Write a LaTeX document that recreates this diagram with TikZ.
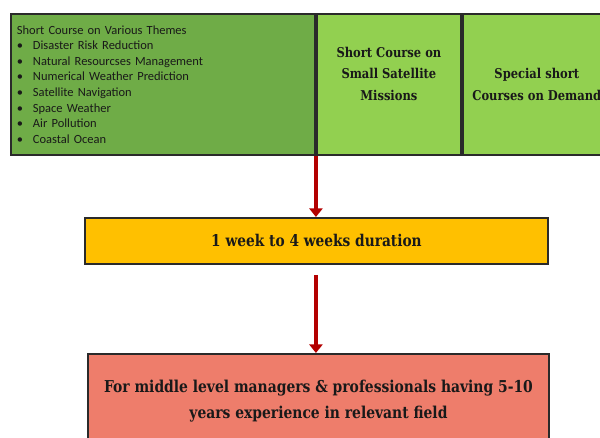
\documentclass[tikz,border=0pt]{standalone}
\usepackage{fontspec}
\usetikzlibrary{arrows.meta}
\newfontfamily\calib{Carlito}
\newfontfamily\slab{DejaVu Serif}[FakeStretch=0.85]
\definecolor{darkgreen}{HTML}{6FAC47}
\definecolor{lightgreen}{HTML}{92D050}
\definecolor{durgold}{HTML}{FFC000}
\definecolor{salmon}{HTML}{EE7D6B}
\definecolor{arrowred}{HTML}{B30000}
\definecolor{edge}{HTML}{2A2A2A}
\newcommand\itm[1]{\makebox[0.32cm][l]{\textbullet}#1}

\begin{document}
\begin{tikzpicture}[
  box/.style={draw=edge, line width=1.1pt, anchor=north west, inner sep=0pt,
              text=black!90, align=center},
  flow/.style={draw=arrowred, line width=2.3pt,
               -{Triangle[width=0.26cm, length=0.17cm]}}]
\clip (0,0) rectangle (12,-8.76);

% top row of course types
\node (themes) [box, fill=darkgreen, minimum width=6.08cm, minimum height=2.82cm,
  text width=5.84cm, inner xsep=0.12cm, align=left,
  font=\calib\fontsize{7.1}{8.9}\selectfont] at (0.2,-0.26)
  {Short Course on Various Themes\\
   \itm{Disaster Risk Reduction}\\
   \itm{Natural Resourcses Management}\\
   \itm{Numerical Weather Prediction}\\
   \itm{Satellite Navigation}\\
   \itm{Space Weather}\\
   \itm{Air Pollution}\\
   \itm{Coastal Ocean}};
\node (sat) [box, fill=lightgreen, minimum width=2.88cm, minimum height=2.82cm,
  font=\slab\bfseries\fontsize{7.7}{12.2}\selectfont] at (themes.north east)
  {Short Course on\\Small Satellite\\Missions\\\mbox{}};
\node (demand) [box, fill=lightgreen, minimum width=2.96cm, minimum height=2.82cm,
  font=\slab\bfseries\fontsize{7.7}{12.2}\selectfont] at (sat.north east)
  {Special short\\Courses on Demand};

% duration and audience
\node (dur) [box, fill=durgold, minimum width=9.26cm, minimum height=0.92cm,
  font=\slab\bfseries\fontsize{9.2}{10}\selectfont] at (1.68,-4.34)
  {1 week to 4 weeks duration};
\node (target) [box, fill=salmon, minimum width=9.22cm, minimum height=1.88cm,
  font=\slab\bfseries\fontsize{9.3}{14.8}\selectfont] at (1.74,-7.06)
  {For middle level managers \& professionals having 5-10\\
   years experience in relevant field};

\draw[flow] (themes.south east) -- (themes.south east |- dur.north);
\draw[flow, shorten <=0.2cm] (themes.south east |- dur.south) -- (themes.south east |- target.north);
\end{tikzpicture}
\end{document}
